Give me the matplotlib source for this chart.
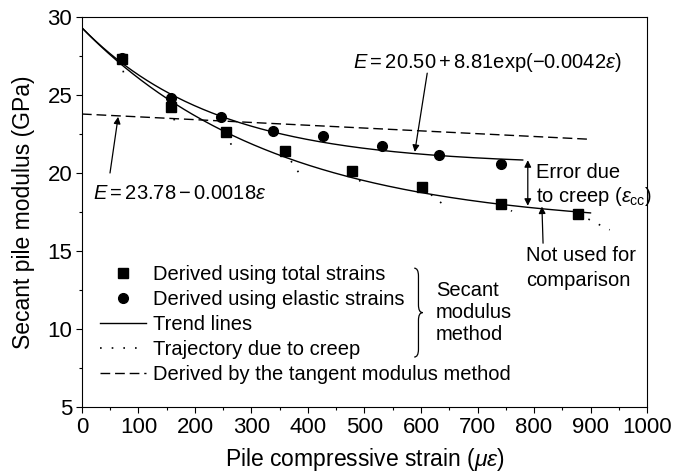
import numpy as np
import matplotlib.pyplot as plt
from matplotlib.lines import Line2D
from matplotlib.path import Path
from matplotlib.patches import PathPatch

plt.rcParams['font.family'] = 'Liberation Sans'
plt.rcParams['mathtext.fontset'] = 'custom'
plt.rcParams['mathtext.rm'] = 'Liberation Sans'
plt.rcParams['mathtext.it'] = 'Liberation Sans:italic'

# secant modulus derived from total strains (squares)
total_strain = [71, 158, 255, 359, 477, 602, 742, 878]
total_modulus = [27.3, 24.2, 22.6, 21.4, 20.1, 19.1, 18.0, 17.4]

# secant modulus derived from elastic strains (circles)
elastic_strain = [71, 157, 246, 338, 426, 531, 632, 742]
elastic_modulus = [27.4, 24.8, 23.6, 22.7, 22.4, 21.7, 21.15, 20.6]

# strain reached at the end of each creep trajectory
creep_end = [75, 165, 265, 386, 496, 637, 761, 934]

# trend lines E = a + b*exp(-c*eps)
elastic_fit = (20.50, 8.81, 0.0042)
elastic_fit_end = 780
total_fit = (16.5, 12.8, 0.0029)
total_fit_end = 900

# tangent modulus method E = a - b*eps
tangent_fit = (23.78, 0.0018)
tangent_end = 900


def exp_trend(eps, a, b, c):
    return a + b * np.exp(-c * eps)


fig = plt.figure(figsize=(6.73, 4.75), dpi=100)
ax = fig.add_axes([0.1218, 0.1432, 0.8396, 0.821])

# trend lines
eps = np.linspace(0, elastic_fit_end, 300)
ax.plot(eps, exp_trend(eps, *elastic_fit), color='black', lw=1.0)
eps = np.linspace(0, total_fit_end, 300)
ax.plot(eps, exp_trend(eps, *total_fit), color='black', lw=1.0)

# tangent modulus line
eps = np.array([0, tangent_end])
ax.plot(eps, tangent_fit[0] - tangent_fit[1] * eps, color='black', lw=1.0,
        dashes=(7, 3.5))

# creep trajectories: constant stress, so E*eps stays fixed
for e0, m0, e1 in zip(total_strain, total_modulus, creep_end):
    stress = e0 * m0
    eps = np.linspace(e0, e1, 50)
    ax.plot(eps, stress / eps, color='black', lw=1.2, dashes=(1.0, 6.0))

ax.plot(total_strain, total_modulus, ls='none', marker='s', ms=6.5,
        color='black')
ax.plot(elastic_strain, elastic_modulus, ls='none', marker='o', ms=7,
        color='black')

ax.set_xlim(0, 1000)
ax.set_ylim(5, 30)
ax.set_xticks(np.arange(0, 1001, 100))
ax.set_xticks(np.arange(0, 1001, 50), minor=True)
ax.set_yticks(np.arange(5, 31, 5))
ax.set_yticks(np.arange(5, 31, 2.5), minor=True)
ax.tick_params(which='both', direction='out', width=0.8, labelsize=16,
               top=False, right=False)
ax.tick_params(which='major', length=4, pad=3)
ax.tick_params(which='minor', length=2.2)
for s in ax.spines.values():
    s.set_linewidth(0.8)

ax.set_xlabel(r'Pile compressive strain ($\mu\varepsilon$)', fontsize=16.5,
              labelpad=6)
ax.set_ylabel('Secant pile modulus (GPa)', fontsize=16.5, labelpad=9)

# legend
handles = [
    Line2D([], [], ls='none', marker='s', ms=6.5, color='black'),
    Line2D([], [], ls='none', marker='o', ms=7, color='black'),
    Line2D([], [], color='black', lw=1.0),
    Line2D([], [], color='black', lw=1.2, dashes=(1.0, 6.0)),
    Line2D([], [], color='black', lw=1.0, dashes=(7, 3.5)),
]
labels = ['Derived using total strains', 'Derived using elastic strains',
          'Trend lines', 'Trajectory due to creep',
          'Derived by the tangent modulus method']
ax.legend(handles, labels, loc='upper left', bbox_to_anchor=(0.032, 0.365),
          frameon=False, fontsize=14.5, handlelength=2.3,
          handletextpad=0.35, labelspacing=0.3, borderpad=0,
          borderaxespad=0)

# brace grouping the secant modulus entries
x0, w = 588, 15
ytop, ymid, ybot, r = 13.9, 11.05, 8.2, 0.5
xm = x0 + w / 2
verts = [(x0, ytop), (xm, ytop), (xm, ytop - r),
         (xm, ymid + r),
         (xm, ymid), (x0 + w, ymid),
         (xm, ymid), (xm, ymid - r),
         (xm, ybot + r),
         (xm, ybot), (x0, ybot)]
codes = [Path.MOVETO, Path.CURVE3, Path.CURVE3,
         Path.LINETO,
         Path.CURVE3, Path.CURVE3,
         Path.CURVE3, Path.CURVE3,
         Path.LINETO,
         Path.CURVE3, Path.CURVE3]
ax.add_patch(PathPatch(Path(verts, codes), fill=False, lw=0.9,
                       edgecolor='black'))
ax.text(626, 11.05, 'Secant\nmodulus\nmethod', fontsize=14.5, va='center',
        ha='left', linespacing=1.2)

arrow = dict(arrowstyle='-|>', color='black', lw=0.9, mutation_scale=10,
             shrinkA=0, shrinkB=0)

ax.text(717, 27.1, r'$E = 20.50 + 8.81\mathrm{exp}(-0.0042\varepsilon)$',
        fontsize=14.5, ha='center', va='center')
ax.annotate('', xy=(589, 21.35), xytext=(611, 26.4), arrowprops=arrow)

ax.text(19.5, 18.7, r'$E = 23.78 - 0.0018\varepsilon$', fontsize=14.5,
        ha='left', va='center')
ax.annotate('', xy=(64, 23.6), xytext=(49.6, 20.0), arrowprops=arrow)

# error due to creep
ax.annotate('', xy=(789, 20.82), xytext=(789, 17.9),
            arrowprops=dict(arrowstyle='<|-|>', color='black', lw=0.9,
                            mutation_scale=10, shrinkA=0, shrinkB=0))
ax.text(803, 19.2, 'Error due\nto creep ($\\varepsilon_{\\mathrm{cc}}$)',
        fontsize=14.5, va='center', ha='left', linespacing=1.15)

ax.text(786, 13.9, 'Not used for\ncomparison', fontsize=14.5, ha='left',
        va='center', linespacing=1.42)
ax.annotate('', xy=(814, 17.85), xytext=(816, 15.5), arrowprops=arrow)

fig.savefig('out.png', dpi=100)
